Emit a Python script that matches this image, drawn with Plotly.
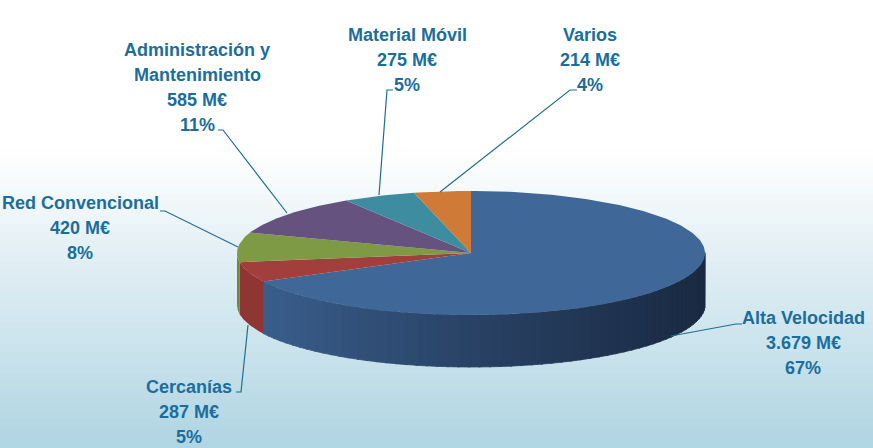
import numpy as np
import plotly.graph_objs as go

# presupuesto por area (M€)
areas = ['Alta Velocidad', 'Cercanías', 'Red Convencional',
         'Administración y<br>Mantenimiento', 'Material Móvil', 'Varios']
importes = [3679, 287, 420, 585, 275, 214]
importes_txt = ['3.679 M€', '287 M€', '420 M€', '585 M€', '275 M€', '214 M€']
porcentajes = ['67%', '5%', '8%', '11%', '5%', '4%']

top_colors = ['#3F6899', '#A23E3C', '#7F9A45', '#66527F', '#3E8CA0', '#CF7A36']
side_colors = [None, '#8F3533', '#6E873A', '#584670', '#337A8C', '#B8692C']

W, H = 873, 448
CX, CY = 471, 253
RX, RY = 234, 62
DEPTH = 52

# label centre (x, y of first line) and leader line points, in pixels
label_pos = [
    (803, 318, [(742, 324), (736, 324), (671, 336)]),
    (189, 387, [(236, 392), (241, 392), (248, 325)]),
    (80, 203, [(160, 211), (165, 211), (238, 247)]),
    (197, 50, [(218, 130), (223, 130), (287, 213)]),
    (407, 35, [(393, 90), (387, 90), (379, 195)]),
    (590, 35, [(577, 90), (570, 90), (440, 192)]),
]
LINE_GAP = 25

FONT = 'Liberation Sans Narrow, Arial Narrow, Liberation Sans, Arial'
TXT_COLOR = '#1B6E9C'


def ellipse_pt(theta, dy=0):
    return CX + RX * np.cos(theta), CY + RY * np.sin(theta) + dy


def slice_angles(values):
    total = float(sum(values))
    start = -np.pi / 2
    out = []
    for v in values:
        end = start + 2 * np.pi * v / total
        out.append((start, end))
        start = end
    return out


def poly(xs, ys, color, edge=0):
    return go.Scatter(x=list(xs) + [xs[0]], y=list(ys) + [ys[0]], mode='lines',
                      fill='toself', fillcolor=color, line=dict(width=edge, color=color),
                      hoverinfo='skip', showlegend=False)


def side_wall(a0, a1, color, edge=0):
    t = np.linspace(a0, a1, 40)
    x_top, y_top = ellipse_pt(t)
    x_bot, y_bot = ellipse_pt(t[::-1], DEPTH)
    return poly(np.concatenate([x_top, x_bot]), np.concatenate([y_top, y_bot]), color, edge)


def mix(c1, c2, f):
    return 'rgb(%d,%d,%d)' % tuple(int(c1[i] + (c2[i] - c1[i]) * f) for i in range(3))


def build_traces():
    traces = []
    angles = slice_angles(importes)

    # visible front side (angles 0..pi)
    for i, (a0, a1) in enumerate(angles):
        lo, hi = max(a0, 0), min(a1, np.pi)
        if lo >= hi:
            continue
        if i == 0:
            # gradient for the big slice, light on the left, dark on the right
            steps = np.linspace(lo, hi, 60)
            for s0, s1 in zip(steps[:-1], steps[1:]):
                xm = CX + RX * np.cos((s0 + s1) / 2)
                f = (xm - (CX - RX)) / (2 * RX)
                col = mix((62, 101, 150), (26, 42, 66), f ** 0.8)
                traces.append(side_wall(s0 - 0.004, s1 + 0.004, col, edge=0.8))
        else:
            traces.append(side_wall(lo, hi, side_colors[i]))

    # top faces
    for i, (a0, a1) in enumerate(angles):
        t = np.linspace(a0, a1, max(int((a1 - a0) * 60), 8))
        xs, ys = ellipse_pt(t)
        traces.append(poly(np.concatenate([[CX], xs]), np.concatenate([[CY], ys]), top_colors[i]))

    # leader lines
    for cx, cy, pts in label_pos:
        traces.append(go.Scatter(x=[p[0] for p in pts], y=[p[1] for p in pts], mode='lines',
                                 line=dict(color='#1F6E90', width=1.2),
                                 hoverinfo='skip', showlegend=False))
    return traces


def build_annotations():
    annotations = []
    for i, (cx, cy, pts) in enumerate(label_pos):
        lines = areas[i].split('<br>') + [importes_txt[i], porcentajes[i]]
        for k, line in enumerate(lines):
            annotations.append(dict(x=cx, y=cy + k * LINE_GAP, xref='x', yref='y',
                                    text='<b>' + line + '</b>', showarrow=False,
                                    xanchor='center', yanchor='middle',
                                    font=dict(family=FONT, size=18, color=TXT_COLOR)))
    return annotations


def build_background():
    shapes = []
    top, bottom = 150, H
    n = 40
    c_top, c_bot = (255, 255, 255), (176, 213, 227)
    for k in range(n):
        y0 = top + (bottom - top) * k / n
        y1 = top + (bottom - top) * (k + 1) / n + 1
        f = (k + 0.5) / n
        shapes.append(dict(type='rect', xref='x', yref='y', x0=0, x1=W, y0=y0, y1=y1,
                           fillcolor=mix(c_top, c_bot, f), line=dict(width=0), layer='below'))
    return shapes


def main():
    layout = go.Layout(
        width=W, height=H, margin=dict(l=0, r=0, t=0, b=0),
        paper_bgcolor='white', plot_bgcolor='white',
        xaxis=dict(range=[0, W], visible=False, fixedrange=True),
        yaxis=dict(range=[H, 0], visible=False, fixedrange=True),
        annotations=build_annotations(), shapes=build_background())
    fig = go.Figure(data=build_traces(), layout=layout)
    # browser body margin would push the fixed-size plot off the window
    fig.write_html('out.html', config={'displayModeBar': False},
                   post_script="document.body.style.margin='0';")


if __name__ == '__main__':
    main()
